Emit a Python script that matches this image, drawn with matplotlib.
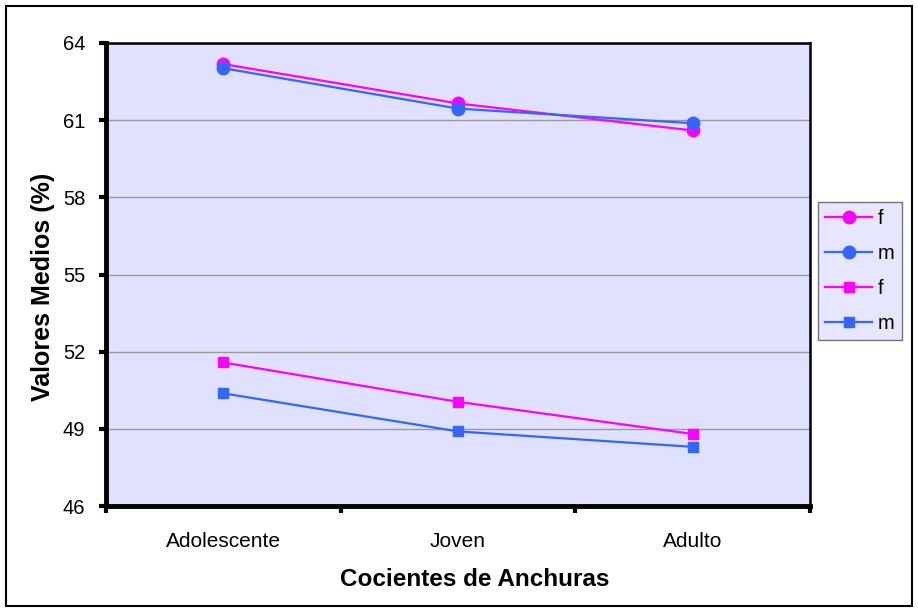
import matplotlib.pyplot as plt
import matplotlib.patches as mpatches

categories = ["Adolescente", "Joven", "Adulto"]
f_circle = [63.18, 61.65, 60.60]
m_circle = [63.02, 61.45, 60.88]
f_square = [51.58, 50.05, 48.80]
m_square = [50.38, 48.90, 48.30]
y_ticks = [46, 49, 52, 55, 58, 61, 64]

pink = "#FF00FF"
blue = "#3366FF"

plt.rcParams["font.family"] = ["Liberation Sans", "DejaVu Sans"]

fig = plt.figure(figsize=(9.18, 6.11), dpi=100)
fig.patches.append(mpatches.Rectangle((6 / 918, 5 / 611), 906 / 918, 600 / 611,
                                      transform=fig.transFigure, fill=False,
                                      edgecolor="black", linewidth=1.5))

ax = fig.add_axes([106 / 918, 1 - 506 / 611, 704 / 918, 463 / 611])
ax.set_facecolor("#E0E0FF")

x = range(len(categories))
ax.plot(x, f_circle, color=pink, marker="o", markersize=9, lw=1.6, label="f")
ax.plot(x, m_circle, color=blue, marker="o", markersize=9, lw=1.6, label="m")
ax.plot(x, f_square, color=pink, marker="s", markersize=7, lw=1.6, label="f")
ax.plot(x, m_square, color=blue, marker="s", markersize=7, lw=1.6, label="m")

ax.set_ylim(46, 64)
ax.set_yticks(y_ticks)
ax.set_xlim(-0.5, 2.5)
ax.set_xticks([-0.5, 0.5, 1.5, 2.5])
ax.set_xticklabels([])
ax.set_xticks(list(x), minor=True)
ax.set_xticklabels(categories, minor=True)
ax.tick_params(axis="x", which="minor", length=0, pad=19, labelsize=15)
ax.tick_params(axis="x", which="major", length=5, width=3, direction="out")
ax.tick_params(axis="y", length=5, width=3, direction="out", labelsize=14.5, pad=10)
ax.yaxis.grid(True, color="#999999", lw=1)
ax.set_axisbelow(True)

for s in ["left", "bottom"]:
    ax.spines[s].set_linewidth(3.5)
for s in ["top", "right"]:
    ax.spines[s].set_linewidth(1.8)

ax.set_xlabel("Cocientes de Anchuras", fontsize=17.5, fontweight="bold")
ax.set_ylabel("Valores Medios (%)", fontsize=18, fontweight="bold")
ax.xaxis.set_label_coords(0.524, -0.134)
ax.yaxis.set_label_coords(-0.072, 0.473)

leg = ax.legend(loc="center left", bbox_to_anchor=(1.012, 0.508), fontsize=14.5,
                frameon=True, fancybox=False, edgecolor="#555555",
                handlelength=2.3, handletextpad=0.3, borderpad=0.35,
                labelspacing=0.8, borderaxespad=0)
leg.get_frame().set_facecolor("#E0E0FF")
leg.get_frame().set_linewidth(1)

fig.savefig("out.png", dpi=100)
